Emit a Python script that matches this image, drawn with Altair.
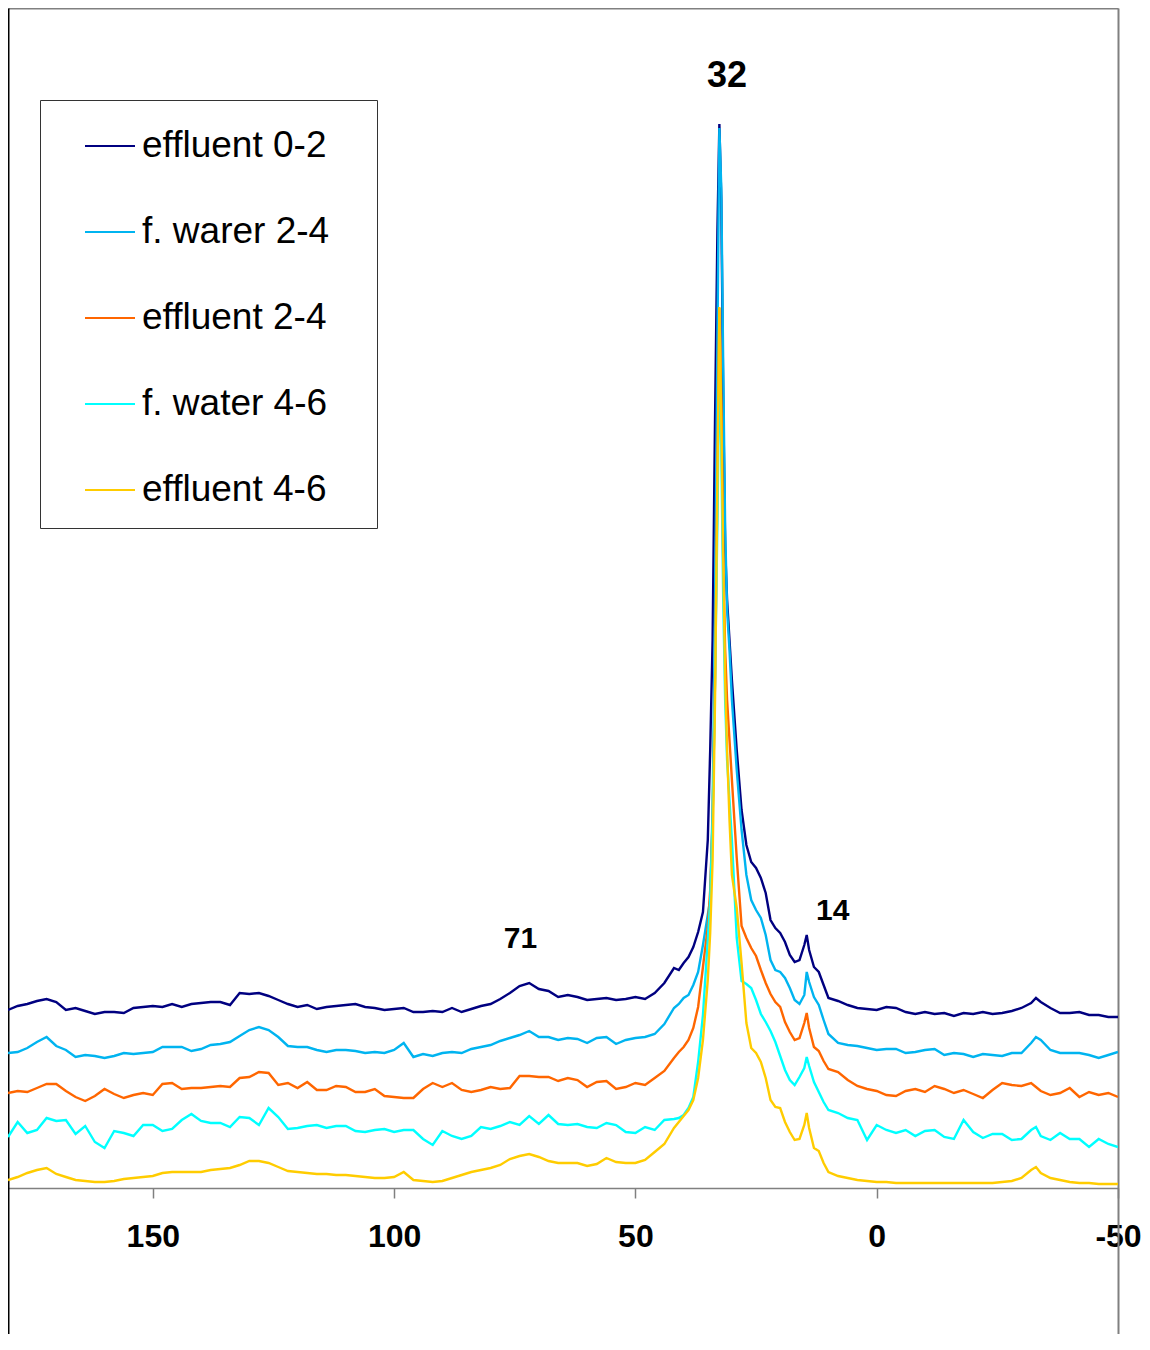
import altair as alt
import pandas as pd

# chemical shift grid (ppm)
ppm = [180, 178, 176, 174, 172, 170, 168, 166, 164, 162,
       160, 158, 156, 154, 152, 150, 148, 146, 144, 142,
       140, 138, 136, 134, 132, 130, 128, 126, 124, 122,
       120, 118, 116, 114, 112, 110, 108, 106, 104, 102,
       100, 98, 96, 94, 92, 90, 88, 86, 84, 82,
       80, 78, 76, 74, 72, 70, 68, 66, 64, 62,
       60, 58, 56, 54, 52, 50, 48, 46, 44, 42,
       41, 40, 39, 38, 37, 36, 35, 34.5, 34, 33.5,
       33, 32.6, 32.2, 31.8, 31.4, 31, 30.5, 30, 29, 28,
       27, 26, 25, 24, 23, 22, 21, 20, 19, 18,
       17, 16, 15, 14.5, 14, 13, 12, 11, 10,
       8, 6, 4, 2, 0, -2, -4, -6, -8, -10,
       -12, -14, -16, -18, -20, -22, -24, -26, -28, -30,
       -32, -33, -34, -36, -38, -40, -42, -44, -46, -48, -50]

effluent_0_2 = [178, 182, 184, 187, 189, 186, 178, 180, 177, 174,
                176, 176, 175, 180, 181, 182, 181, 184, 181, 184,
                185, 186, 186, 183, 195, 194, 195, 192, 188, 184,
                181, 183, 179, 181, 182, 183, 184, 181, 180, 178,
                179, 180, 176, 176, 177, 176, 180, 176, 179, 182,
                184, 189, 195, 202, 205, 199, 197, 191, 193, 191,
                188, 189, 190, 188, 189, 191, 189, 195, 205, 220,
                218, 225, 231, 241, 256, 276, 348, 438, 548, 768,
                958, 1064, 988, 788, 640, 588, 548, 508, 438, 378,
                343, 326, 320, 310, 295, 268, 260, 255, 246, 233,
                226, 228, 243, 253, 238, 221, 216, 203, 190,
                187, 183, 180, 179, 178, 181, 180, 176, 174, 176,
                174, 175, 172, 175, 174, 176, 174, 175, 177, 180,
                185, 190, 186, 180, 175, 175, 176, 173, 173, 171, 171]

f_warer_2_4 = [135, 136, 140, 146, 151, 142, 138, 131, 133, 132,
               130, 132, 135, 134, 135, 136, 141, 141, 141, 137,
               139, 143, 144, 146, 152, 158, 161, 158, 151, 142,
               141, 141, 138, 136, 138, 138, 137, 135, 136, 135,
               138, 145, 131, 134, 132, 135, 136, 135, 139, 141,
               143, 147, 150, 153, 157, 151, 151, 148, 150, 149,
               145, 150, 151, 144, 148, 150, 151, 154, 164, 180,
               184, 190, 193, 203, 216, 243, 273, 288, 380, 580,
               850, 1060, 1000, 820, 660, 578, 538, 488, 418, 358,
               313, 288, 278, 270, 253, 228, 218, 216, 210, 200,
               188, 184, 193, 216, 206, 191, 183, 168, 154,
               145, 143, 142, 140, 138, 139, 139, 135, 136, 138,
               139, 133, 135, 134, 131, 134, 133, 132, 135, 135,
               145, 151, 148, 138, 135, 135, 135, 133, 130, 133, 136]

effluent_2_4 = [95, 97, 96, 100, 104, 104, 97, 91, 87, 92,
                99, 94, 90, 93, 95, 93, 104, 105, 99, 100,
                100, 101, 102, 101, 110, 111, 116, 115, 103, 105,
                100, 106, 98, 98, 102, 101, 96, 96, 99, 92,
                91, 90, 90, 99, 105, 101, 105, 98, 96, 98,
                101, 99, 100, 112, 112, 111, 111, 107, 110, 108,
                101, 106, 107, 99, 101, 105, 103, 110, 117, 130,
                136, 141, 148, 160, 181, 221, 261, 298, 368, 508,
                708, 880, 788, 628, 538, 488, 448, 408, 330, 262,
                250, 240, 232, 218, 205, 194, 186, 181, 166, 156,
                148, 150, 165, 175, 160, 141, 137, 127, 119,
                116, 108, 102, 99, 97, 93, 92, 97, 99, 96,
                102, 99, 95, 98, 94, 90, 98, 105, 103, 102,
                105, 101, 97, 93, 95, 100, 91, 96, 93, 95, 91]

f_water_4_6 = [51, 66, 55, 58, 70, 67, 68, 54, 62, 46,
               40, 57, 55, 52, 63, 63, 57, 59, 68, 74,
               67, 65, 65, 61, 71, 70, 63, 80, 71, 59,
               60, 62, 63, 60, 62, 62, 57, 56, 58, 59,
               56, 58, 58, 49, 43, 57, 52, 49, 52, 61,
               59, 62, 66, 63, 72, 64, 73, 64, 63, 64,
               61, 60, 65, 63, 56, 55, 61, 58, 68, 69,
               70, 73, 80, 91, 126, 173, 248, 288, 368, 508,
               668, 828, 738, 588, 488, 428, 388, 348, 250, 207,
               204, 200, 188, 174, 166, 157, 146, 132, 118, 108,
               103, 111, 120, 131, 122, 106, 96, 86, 78,
               75, 70, 68, 48, 63, 58, 55, 58, 52, 57,
               58, 51, 49, 68, 56, 50, 54, 54, 48, 49,
               58, 61, 52, 48, 55, 49, 49, 41, 49, 44, 41]

effluent_4_6 = [8, 11, 15, 18, 20, 14, 11, 8, 7, 6,
                6, 7, 9, 10, 11, 12, 15, 16, 16, 16,
                16, 18, 19, 20, 23, 27, 27, 25, 21, 17,
                16, 15, 14, 14, 13, 13, 12, 11, 10, 10,
                11, 16, 8, 7, 6, 7, 10, 13, 16, 18,
                20, 23, 29, 32, 34, 31, 27, 25, 25, 25,
                22, 24, 30, 26, 25, 25, 28, 36, 44, 60,
                66, 72, 78, 88, 110, 148, 208, 255, 328, 488,
                708, 881, 768, 628, 508, 438, 368, 313, 280, 225,
                165, 140, 135, 126, 110, 88, 81, 80, 66, 56,
                48, 49, 63, 75, 60, 40, 37, 25, 16,
                12, 10, 8, 7, 6, 6, 5, 5, 5, 5,
                5, 5, 5, 5, 5, 5, 5, 6, 7, 10,
                18, 21, 15, 10, 8, 6, 5, 5, 4, 4, 4]

series_names = ["effluent 0-2", "f. warer 2-4", "effluent 2-4", "f. water 4-6", "effluent 4-6"]
series_colors = ["#000080", "#00B4F0", "#FF6600", "#00FFFF", "#FFCC00"]
series_values = [effluent_0_2, f_warer_2_4, effluent_2_4, f_water_4_6, effluent_4_6]

# peak annotations
ann_text = ["32", "71", "14"]
ann_ppm = [31.0, 73.8, 9.1]
ann_int = [1112, 249, 277]
ann_size = [36, 30, 30]

rows = []
for k, (name, vals) in enumerate(zip(series_names, series_values)):
    for p, v in zip(ppm, vals):
        rows.append({"ppm": p, "intensity": v, "series": name, "k": k})
df = pd.DataFrame(rows)

ann = pd.DataFrame({"ppm": ann_ppm, "intensity": ann_int, "label": ann_text, "fs": ann_size})

FONT = "Liberation Sans"
W = 1110
H = 1326
Y_TOP = 1180
Y_BOTTOM = Y_TOP - H
x_scale = alt.Scale(domain=[180, -50], nice=False, zero=False)
y_scale = alt.Scale(domain=[Y_BOTTOM, Y_TOP], nice=False, zero=False)

lines = alt.Chart(df).mark_line(strokeWidth=2.4, clip=True).encode(
    x=alt.X(
        "ppm:Q", scale=x_scale,
        axis=alt.Axis(
            orient="bottom", values=[150, 100, 50, 0, -50], offset=Y_BOTTOM, title=None, grid=False,
            tickSize=10, tickColor="#808080", tickWidth=1.5,
            domainColor="#808080", domainWidth=1.5,
            labelFont=FONT, labelFontSize=32, labelFontWeight="bold", labelColor="black",
            labelPadding=23, labelFlush=False, labelOverlap=False,
            labelExpr="'' + datum.value",
        ),
    ),
    y=alt.Y(
        "intensity:Q", scale=y_scale,
        axis=alt.Axis(orient="left", labels=False, ticks=False, title=None, grid=False,
                      domainColor="black", domainWidth=2),
    ),
    color=alt.Color(
        "series:N",
        scale=alt.Scale(domain=series_names, range=series_colors),
        sort=series_names,
        legend=alt.Legend(
            title=None, orient="none", legendX=32, legendY=92,
            symbolType="stroke", symbolSize=2500, symbolStrokeWidth=2,
            symbolOffset=24,
            labelFont=FONT, labelFontSize=37, labelColor="black", labelLimit=600,
            labelOffset=6, padding=20, rowPadding=42,
            labelExpr="datum.label + '\u2800'",
            strokeColor="#333333", fillColor="white",
        ),
    ),
    order=alt.Order("k:Q"),
)

labels = alt.Chart(ann).mark_text(font=FONT, fontWeight="bold", color="black",
                                  align="center", baseline="middle").encode(
    x=alt.X("ppm:Q", scale=x_scale,
            axis=alt.Axis(orient="top", labels=False, ticks=False, title=None, grid=False,
                          domainColor="#808080", domainWidth=2)),
    y=alt.Y("intensity:Q", scale=y_scale,
            axis=alt.Axis(orient="right", labels=False, ticks=False, title=None, grid=False,
                          domainColor="#808080", domainWidth=2)),
    text="label:N",
    size=alt.Size("fs:Q", scale=None, legend=None),
)

chart = alt.layer(lines, labels).resolve_axis(x="independent", y="independent").properties(
    width=W, height=H,
    autosize=alt.AutoSizeParams(type="none"),
    padding={"left": 0, "top": 0, "right": 24, "bottom": 0},
).configure_view(stroke=None).configure(background="white")

chart.save("out.html", embed_options={"renderer": "svg", "actions": False})
